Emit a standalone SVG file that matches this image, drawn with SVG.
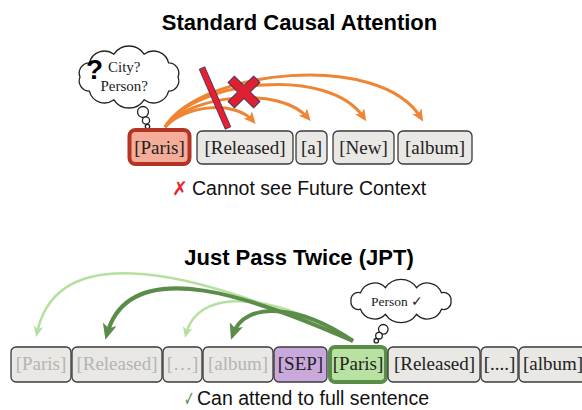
<svg xmlns="http://www.w3.org/2000/svg" width="582" height="410" viewBox="0 0 582 410">
  <style>
    .title { font-family: "Liberation Sans", Arial, sans-serif; font-weight: bold; font-size: 22px; fill: #000; text-anchor: middle; }
    .caption { font-family: "Liberation Sans", Arial, sans-serif; font-size: 19.5px; fill: #111; }
    .tok { fill: #e9e8e4; stroke: #3a3a3a; stroke-width: 1.3; }
    .tok-text { font-family: "Liberation Serif", "Times New Roman", serif; font-size: 19px; fill: #222; text-anchor: middle; }
    .faded { fill: #b4b4b4; }
    .cloud { fill: #fff; stroke: #222; stroke-width: 1.3; }
    .cloud-text { font-family: "Liberation Serif", "Times New Roman", serif; fill: #222; }
    .orange { fill: none; stroke: #ef8433; stroke-width: 3; marker-end: url(#head-orange); }
    .dark-green { fill: none; stroke: #5b8c4a; stroke-width: 4; marker-end: url(#head-dark); }
    .light-green { fill: none; stroke: #b5e0a0; stroke-width: 2.5; marker-end: url(#head-light); }
  </style>
  <defs>
    <marker id="head-orange" markerUnits="userSpaceOnUse" markerWidth="12" markerHeight="11" refX="8" refY="5.5" orient="auto">
      <path d="M0,0 L12,5.5 L0,11 L3,5.5 z" fill="#ef8433"/>
    </marker>
    <marker id="head-dark" markerUnits="userSpaceOnUse" markerWidth="16" markerHeight="14" refX="10" refY="7" orient="auto">
      <path d="M0,0 L16,7 L0,14 L4,7 z" fill="#5b8c4a"/>
    </marker>
    <marker id="head-light" markerUnits="userSpaceOnUse" markerWidth="11" markerHeight="10" refX="7" refY="5" orient="auto">
      <path d="M0,0 L11,5 L0,10 L3,5 z" fill="#b5e0a0"/>
    </marker>
  </defs>

  <rect width="582" height="410" fill="#fff"/>

  <!-- Titles -->
  <text class="title" x="299.5" y="30">Standard Causal Attention</text>
  <text class="title" x="299" y="265">Just Pass Twice (JPT)</text>

  <!-- Causal attention: arcs from [Paris] to later tokens -->
  <g id="connectors-causal">
    <path class="orange" d="M165,127 C200,70 380,50 421,118"/>
    <path class="orange" d="M165,127 C195,80 330,65 364,118"/>
    <path class="orange" d="M165,127 C190,95 280,85 308,118"/>
    <path class="orange" d="M165,127 C185,105 235,100 253,121"/>
  </g>

  <!-- Blocked-attention marks -->
  <g id="blocked">
    <polygon points="204.75,66.8 230.75,126.8 225.25,129.2 199.25,69.2" fill="#e8202c" stroke="#2a2a6a" stroke-width="0.8"/>
    <path transform="translate(244,92) rotate(45)" d="M-4.5,-18 L4.5,-18 L4.5,-4.5 L18,-4.5 L18,4.5 L4.5,4.5 L4.5,18 L-4.5,18 L-4.5,4.5 L-18,4.5 L-18,-4.5 L-4.5,-4.5 z" fill="#e02030" stroke="#383860" stroke-width="1"/>
  </g>

  <!-- Thought cloud: uncertain -->
  <g id="cloud-uncertain">
    <path class="cloud" d="M178,77 A10.2,10.2 0 0 1 168.6,91.1 A15.6,15.6 0 0 1 144.1,99.8 A18,18 0 0 1 113.9,99.8 A15.6,15.6 0 0 1 89.4,91.1 A10.2,10.2 0 0 1 80,77 A10.2,10.2 0 0 1 89.4,62.9 A15.6,15.6 0 0 1 113.9,54.2 A18,18 0 0 1 144.1,54.2 A15.6,15.6 0 0 1 168.6,62.9 A10.2,10.2 0 0 1 178,77 z"/>
    <circle class="cloud" cx="143" cy="112" r="5.5"/>
    <circle class="cloud" cx="146" cy="120.5" r="3.6"/>
    <circle class="cloud" cx="147.5" cy="126.5" r="2.2"/>
    <text x="86" y="79" font-family="'Liberation Sans', Arial, sans-serif" font-weight="bold" font-size="28" fill="#000">?</text>
    <text class="cloud-text" x="108" y="72" font-size="15">City?</text>
    <text class="cloud-text" x="100.5" y="90.5" font-size="15">Person?</text>
  </g>

  <!-- Causal token row -->
  <g id="tok-paris-1">
    <rect x="129.5" y="130" width="60" height="34" rx="6" fill="#f5ad9a" stroke="#b33422" stroke-width="4"/>
    <text class="tok-text" x="159.5" y="154">[Paris]</text>
  </g>
  <g id="tok-released-1">
    <rect class="tok" x="197" y="131" width="96" height="33" rx="5"/>
    <text class="tok-text" x="245" y="154">[Released]</text>
  </g>
  <g id="tok-a-1">
    <rect class="tok" x="296" y="131" width="31" height="33" rx="5"/>
    <text class="tok-text" x="311.5" y="154">[a]</text>
  </g>
  <g id="tok-new-1">
    <rect class="tok" x="333" y="131" width="61" height="33" rx="5"/>
    <text class="tok-text" x="363.5" y="154">[New]</text>
  </g>
  <g id="tok-album-1">
    <rect class="tok" x="398" y="131" width="74" height="33" rx="5"/>
    <text class="tok-text" x="435" y="154">[album]</text>
  </g>

  <g id="caption-causal">
    <text x="172" y="195" font-family="'DejaVu Sans', sans-serif" font-size="19" fill="#e8262a">✗</text>
    <text class="caption" x="192" y="195">Cannot see Future Context</text>
  </g>

  <!-- JPT: second-pass [Paris] attends back to first pass -->
  <g id="connectors-jpt">
    <path class="light-green" d="M353,341 C240,290 60,222 37,333"/>
    <path class="light-green" d="M353,341 C290,300 200,280 186,334"/>
    <path class="dark-green" d="M353,341 C260,300 130,250 107,334"/>
    <path class="dark-green" d="M353,341 C300,305 245,300 233,334"/>
  </g>

  <!-- Thought cloud: resolved -->
  <g id="cloud-resolved">
    <path class="cloud" d="M451,301 A7.5,7.5 0 0 1 441.5,309.2 A15,15 0 0 1 416.5,314.3 A18.6,18.6 0 0 1 385.5,314.3 A15,15 0 0 1 360.5,309.2 A7.5,7.5 0 0 1 351,301 A7.5,7.5 0 0 1 360.5,292.8 A15,15 0 0 1 385.5,287.7 A18.6,18.6 0 0 1 416.5,287.7 A15,15 0 0 1 441.5,292.8 A7.5,7.5 0 0 1 451,301 z"/>
    <circle class="cloud" cx="383.3" cy="329.3" r="4.8"/>
    <circle class="cloud" cx="379" cy="335.7" r="3.3"/>
    <circle class="cloud" cx="376.3" cy="340.7" r="2.2"/>
    <text class="cloud-text" x="397" y="306" font-size="13.5" text-anchor="middle">Person ✓</text>
  </g>

  <!-- JPT token row -->
  <g id="tok-paris-a">
    <rect class="tok" x="11" y="347" width="60" height="35" rx="5"/>
    <text class="tok-text faded" x="41" y="370">[Paris]</text>
  </g>
  <g id="tok-released-a">
    <rect class="tok" x="72" y="347" width="90" height="35" rx="5"/>
    <text class="tok-text faded" x="117" y="370">[Released]</text>
  </g>
  <g id="tok-ellipsis-a">
    <rect class="tok" x="163" y="347" width="39" height="35" rx="5"/>
    <text class="tok-text faded" x="182.5" y="370">[…]</text>
  </g>
  <g id="tok-album-a">
    <rect class="tok" x="203" y="347" width="70" height="35" rx="5"/>
    <text class="tok-text faded" x="238" y="370">[album]</text>
  </g>
  <g id="tok-sep">
    <rect x="274" y="347" width="53" height="35" rx="5" fill="#c9a8dc" stroke="#3a3a3a" stroke-width="1.3"/>
    <text class="tok-text" x="300.5" y="370">[SEP]</text>
  </g>
  <g id="tok-paris-b">
    <rect x="330" y="347" width="56" height="35" rx="5" fill="#b8e2a2" stroke="#5b8c4a" stroke-width="4"/>
    <text class="tok-text" x="358" y="370">[Paris]</text>
  </g>
  <g id="tok-released-b">
    <rect class="tok" x="388" y="347" width="92" height="35" rx="5"/>
    <text class="tok-text" x="434.5" y="370">[Released]</text>
  </g>
  <g id="tok-dots-b">
    <rect class="tok" x="481" y="347" width="37" height="35" rx="5"/>
    <text class="tok-text" x="499.5" y="370">[....]</text>
  </g>
  <g id="tok-album-b">
    <rect class="tok" x="519" y="347" width="70" height="35" rx="5"/>
    <text class="tok-text" x="553" y="370">[album]</text>
  </g>

  <g id="caption-jpt">
    <text transform="translate(184,406) scale(0.6,1)" font-family="'DejaVu Sans', sans-serif" font-size="21" fill="#5d8f4e">✓</text>
    <text class="caption" x="197" y="405">Can attend to full sentence</text>
  </g>
</svg>
